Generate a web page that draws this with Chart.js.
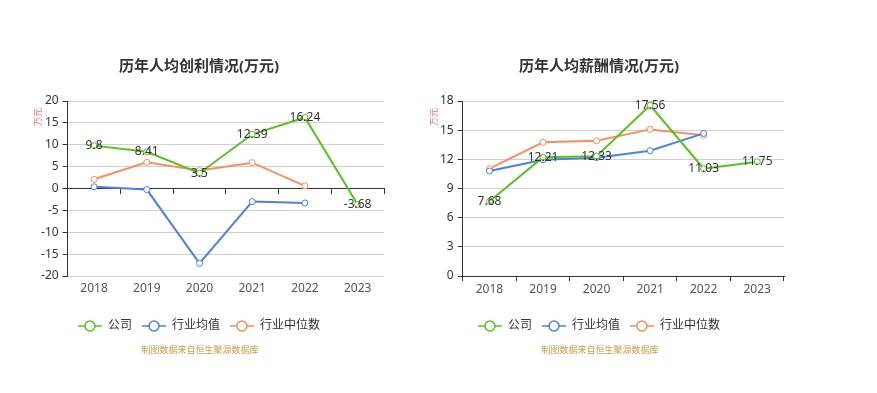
<!DOCTYPE html>
<html><head><meta charset="utf-8">
<script src="https://cdn.jsdelivr.net/npm/chart.js@4/dist/chart.umd.min.js"></script>
<style>
html,body{margin:0;padding:0;background:#fff;width:877px;height:393px;overflow:hidden;position:relative;font-family:'Noto Sans','Noto Sans CJK SC',sans-serif;}
.wrap{position:absolute;top:0;width:400px;height:393px;}
.unit{position:absolute;font-size:9px;color:#f56c6c;transform:translate(-50%,-50%) rotate(-90deg);white-space:nowrap;font-family:'Noto Sans CJK SC',sans-serif;}
.src{position:absolute;top:343px;width:400px;text-align:center;font-size:9px;color:#c9a048;font-family:'Noto Sans CJK SC',sans-serif;}
</style></head><body>
<div class="wrap" style="left:0"><canvas id="c1" width="400" height="393"></canvas></div>
<div class="wrap" style="left:400px"><canvas id="c2" width="400" height="393"></canvas></div>
<div class="unit" style="left:37px;top:117px">万元</div>
<div class="unit" style="left:433px;top:117px">万元</div>
<div class="src" style="left:0">制图数据来自恒生聚源数据库</div>
<div class="src" style="left:400px">制图数据来自恒生聚源数据库</div>
<script>
const years = ['2018','2019','2020','2021','2022','2023'];
const seriesNames = ['公司','行业均值','行业中位数'];
// 历年人均创利
const profitCompany = [9.8, 8.41, 3.5, 12.39, 16.24, -3.68];
const profitAvg = [0.4, -0.25, -17.1, -3.0, -3.3, null];
const profitMedian = [2.1, 6.0, 4.1, 5.9, 0.6, null];
// 历年人均薪酬
const salaryCompany = [7.68, 12.21, 12.33, 17.56, 11.03, 11.75];
const salaryAvg = [10.8, 11.96, 12.17, 12.89, 14.67, null];
const salaryMedian = [11.04, 13.75, 13.92, 15.08, 14.47, null];

const colors = ['#52c41a', '#4e7fe6', '#ff8c5a'];
const FONT = "'Noto Sans','Noto Sans CJK SC',sans-serif";

function legendIcon(color){
  const c = document.createElement('canvas');
  c.width = 24; c.height = 12;
  const x = c.getContext('2d');
  x.strokeStyle = color; x.lineWidth = 1.5;
  x.beginPath(); x.moveTo(0,6); x.lineTo(24,6); x.stroke();
  x.beginPath(); x.arc(12,6,5,0,Math.PI*2); x.fillStyle='#fff'; x.fill(); x.stroke();
  return c;
}
const icons = colors.map(legendIcon);

const valueLabels = {
  id:'valueLabels',
  afterDatasetsDraw(chart){
    const ctx = chart.ctx;
    const meta = chart.getDatasetMeta(0);
    const data = chart.data.datasets[0].data;
    ctx.save();
    ctx.font = '12px ' + FONT;
    ctx.fillStyle = '#333';
    ctx.textAlign = 'center';
    ctx.textBaseline = 'middle';
    meta.data.forEach((pt,i)=>{
      if (data[i]==null) return;
      ctx.fillText(String(data[i]), pt.x, pt.y);
    });
    ctx.restore();
  }
};

function makeChart(id, title, series, yMin, yMax, step, yWidth, zeroAxis){
  const datasets = series.map((d,i)=>({
    label: seriesNames[i], data: d, borderColor: colors[i], backgroundColor: '#fff',
    borderWidth: 2, pointRadius: 3, pointHoverRadius: 3, pointBorderWidth: 1,
    pointBackgroundColor: '#fff', pointBorderColor: colors[i], tension: 0, spanGaps: false,
    xAxisID: 'x'
  }));
  const scales = {
    x: {
      type: 'category', labels: years, offset: true, position: 'bottom',
      grid: zeroAxis ? {display:false, drawTicks:false} : {drawOnChartArea:false, drawTicks:true, tickLength:5, offset:true, color:'#333', tickColor:'#333'},
      border: {display: !zeroAxis, color:'#333', width:1},
      ticks: {color:'#555', font:{size:12, family:FONT}, padding: zeroAxis ? 5 : 1, maxRotation:0, autoSkip:false},
      afterFit(s){ s.height = 34; }
    },
    y: {
      min: yMin, max: yMax,
      ticks: {stepSize: step, color:'#333', font:{size:12, family:FONT}, padding:4},
      grid: {color:'#d0d0d0', tickColor:'#333', tickLength:5, drawTicks:true},
      border: {display:true, color:'#333', width:1},
      afterFit(s){ s.width = yWidth; }
    }
  };
  if (zeroAxis){
    scales.x2 = {
      type:'category', labels: years, offset:true, position:{y:0},
      grid:{drawOnChartArea:false, drawTicks:true, tickLength:5, offset:true, color:'#333', tickColor:'#333'},
      border:{display:true, color:'#333', width:1},
      ticks:{display:false}
    };
  }
  return new Chart(document.getElementById(id), {
    type:'line',
    data:{labels: years, datasets},
    options:{
      responsive:false, animation:false, devicePixelRatio:1,
      layout:{padding:{left:14, right:16, top:0, bottom:51}},
      plugins:{
        title:{display:true, text:title, color:'#333', font:{size:15, weight:'bold', family:FONT, lineHeight:1.2}, padding:{top:58, bottom:25}},
        legend:{display:true, position:'bottom',
          labels:{usePointStyle:true, pointStyleWidth:24, boxHeight:12, padding:10, color:'#333', font:{size:12, family:FONT},
            generateLabels(chart){
              return chart.data.datasets.map((ds,i)=>({text:ds.label, pointStyle:icons[i], fillStyle:'#fff', strokeStyle:colors[i], lineWidth:0, hidden:false, datasetIndex:i, fontColor:'#333'}));
            }}
        },
        tooltip:{enabled:false}
      },
      scales
    },
    plugins:[valueLabels]
  });
}

makeChart('c1', '历年人均创利情况(万元)', [profitCompany, profitAvg, profitMedian], -20, 20, 5, 53.7, true);
makeChart('c2', '历年人均薪酬情况(万元)', [salaryCompany, salaryAvg, salaryMedian], 0, 18, 3, 48.7, false);
</script>
</body></html>
